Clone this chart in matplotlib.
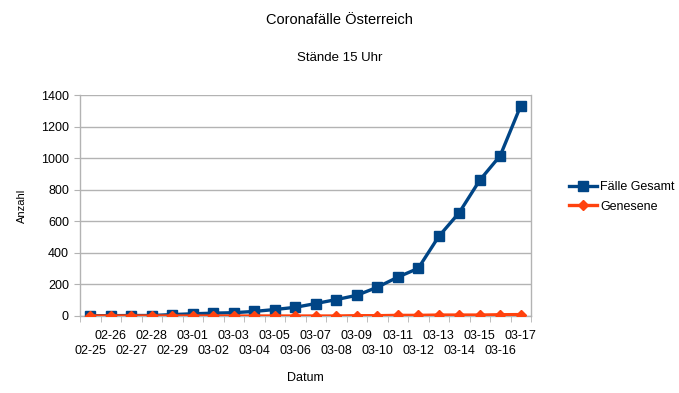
import matplotlib
matplotlib.use("Agg")
import matplotlib.pyplot as plt
import numpy as np

plt.rcParams['font.family'] = ['Liberation Sans', 'DejaVu Sans']

# data
dates = ["02-25", "02-26", "02-27", "02-28", "02-29", "03-01", "03-02", "03-03",
         "03-04", "03-05", "03-06", "03-07", "03-08", "03-09", "03-10", "03-11",
         "03-12", "03-13", "03-14", "03-15", "03-16", "03-17"]
faelle_gesamt = [2, 2, 3, 3, 9, 14, 18, 21, 29, 41, 55, 79, 104, 131, 182, 246,
                 302, 504, 655, 860, 1016, 1332]
genesene = [0, 0, 0, 0, 0, 0, 0, 0, 0, 0, 0, 0, 0, 2, 2, 4, 4, 6, 6, 6, 8, 9]

blue = "#004586"
orange = "#ff420e"
grid_col = "#b3b3b3"

W, H = 679, 393
fig = plt.figure(figsize=(W / 100, H / 100), dpi=100)
ax = fig.add_axes([80 / W, (H - 316) / H, 451 / W, 221 / H])

x = np.arange(len(dates))
ax.plot(x, faelle_gesamt, color=blue, lw=2.4, marker="s", ms=7.5,
        label="Fälle Gesamt", zorder=3)
ax.plot(x, genesene, color=orange, lw=2.4, marker="D", ms=5,
        label="Genesene", zorder=4)

ax.set_xlim(-0.5, len(dates) - 0.5)
ax.set_ylim(0, 1400)
ax.set_yticks(np.arange(0, 1401, 200))
ax.yaxis.grid(True, color=grid_col, lw=1)
ax.set_axisbelow(True)

ax.spines["top"].set_visible(False)
for s in ["left", "right", "bottom"]:
    ax.spines[s].set_color(grid_col)
    ax.spines[s].set_linewidth(1)

# category labels staggered in two rows, tick marks between categories
ax.set_xticks(x[1::2])
ax.set_xticklabels(dates[1::2], fontsize=9)
ax.set_xticks(np.arange(-0.5, len(dates), 1), minor=True)
ax.tick_params(axis="x", which="major", length=0, pad=10)
ax.tick_params(axis="x", which="minor", length=4, color=grid_col, direction="out")
ax.tick_params(axis="y", length=4, color=grid_col, labelsize=9, pad=4)

lower = ax.secondary_xaxis("bottom")
lower.set_xticks(x[0::2])
lower.set_xticklabels(dates[0::2], fontsize=9)
lower.tick_params(axis="x", length=0, pad=21)
lower.spines["bottom"].set_visible(False)

ax.set_xlabel("Datum", fontsize=9, labelpad=22)
ax.set_ylabel("Anzahl", fontsize=8, labelpad=10)

fig.text(339.5 / W, 1 - 20 / H, "Coronafälle Österreich", ha="center", va="center", fontsize=10.5)
fig.text(339.5 / W, 1 - 58 / H, "Stände 15 Uhr", ha="center", va="center", fontsize=9.5)

ax.legend(loc="center left", bbox_to_anchor=(558 / W, 1 - 197 / H),
          bbox_transform=fig.transFigure, frameon=False, fontsize=9,
          handlelength=2.2, handletextpad=0.3, labelspacing=0.6)

fig.savefig("out.png", dpi=100)
